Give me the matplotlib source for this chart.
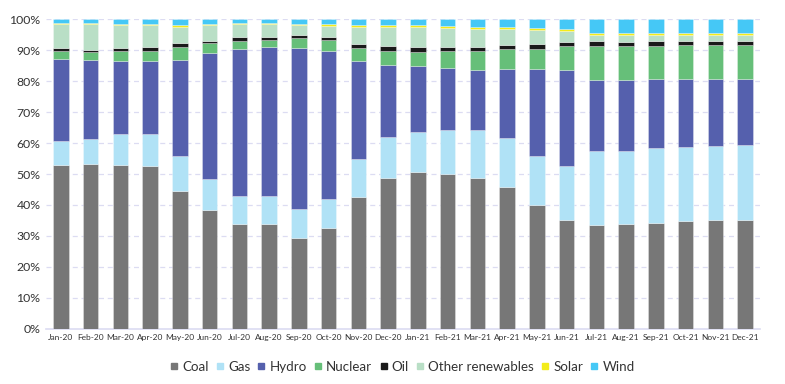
import numpy as np
import matplotlib.pyplot as plt
from matplotlib.lines import Line2D

# Monthly generation share by source (%)
months = ["Jan-20", "Feb-20", "Mar-20", "Apr-20", "May-20", "Jun-20", "Jul-20", "Aug-20",
          "Sep-20", "Oct-20", "Nov-20", "Dec-20", "Jan-21", "Feb-21", "Mar-21", "Apr-21",
          "May-21", "Jun-21", "Jul-21", "Aug-21", "Sep-21", "Oct-21", "Nov-21", "Dec-21"]

coal = [53.0, 53.3, 53.0, 52.7, 44.6, 38.3, 33.8, 33.8, 29.3, 32.5, 42.6, 48.7,
        50.7, 50.0, 48.7, 45.8, 40.0, 35.0, 33.4, 34.0, 34.3, 34.7, 35.0, 35.0]
gas = [7.8, 8.1, 10.0, 10.3, 11.3, 10.1, 9.2, 9.2, 9.4, 9.4, 12.4, 13.4,
       13.0, 14.1, 15.4, 15.7, 15.7, 17.5, 24.2, 23.6, 24.0, 23.9, 23.9, 24.3]
hydro = [26.5, 25.3, 23.4, 23.4, 31.1, 40.6, 47.3, 48.0, 51.9, 47.8, 31.4, 23.0,
         21.1, 20.1, 19.4, 22.3, 28.1, 31.0, 22.7, 22.7, 22.3, 22.0, 21.7, 21.3]
nuclear = [2.4, 2.7, 3.3, 3.3, 4.0, 3.3, 2.6, 2.2, 3.3, 3.5, 4.2, 4.6,
           4.6, 5.5, 6.2, 6.5, 6.5, 7.8, 11.0, 11.0, 10.7, 11.0, 11.0, 11.0]
oil = [0.9, 0.8, 0.9, 1.3, 1.2, 0.7, 1.3, 1.0, 1.0, 1.0, 1.3, 1.6,
       1.6, 1.3, 1.3, 1.3, 1.6, 1.3, 1.6, 1.3, 1.6, 1.3, 1.3, 1.3]
other_renew = [7.9, 8.2, 7.6, 7.2, 5.4, 5.2, 4.2, 4.2, 3.2, 3.6, 5.7, 6.3,
               6.4, 6.1, 5.9, 5.3, 4.7, 3.5, 2.0, 2.3, 2.0, 2.0, 2.0, 2.0]
solar = [0.4, 0.3, 0.2, 0.2, 0.6, 0.2, 0.3, 0.3, 0.3, 0.6, 0.6, 0.6,
         0.8, 0.7, 0.7, 0.7, 0.5, 0.7, 0.6, 0.6, 0.6, 0.6, 0.6, 0.6]
wind = [1.1, 1.3, 1.6, 1.6, 1.8, 1.6, 1.3, 1.3, 1.6, 1.6, 1.8, 1.8,
        1.8, 2.2, 2.4, 2.4, 2.9, 3.2, 4.5, 4.5, 4.5, 4.5, 4.5, 4.5]

series = [("Coal", coal, "#777777"),
          ("Gas", gas, "#b0e2f6"),
          ("Hydro", hydro, "#5560ad"),
          ("Nuclear", nuclear, "#66bf79"),
          ("Oil", oil, "#1a1a1a"),
          ("Other renewables", other_renew, "#b9dfc6"),
          ("Solar", solar, "#f3ec1a"),
          ("Wind", wind, "#45c8f6")]

plt.rcParams["font.family"] = ["Lato", "DejaVu Sans"]

fig = plt.figure(figsize=(7.85, 3.84), dpi=100)
ax = fig.add_axes([0.0586, 0.1438, 0.9094, 0.806])

x = np.arange(len(months))
# normalise each month to 100%
totals = np.sum([np.array(s[1]) for s in series], axis=0)
bottom = np.zeros(len(months))
for name, vals, color in series:
    v = np.array(vals) / totals * 100
    ax.bar(x, v, width=0.52, bottom=bottom, color=color,
           edgecolor=(1, 1, 1, 0.35), linewidth=0.6, label=name, zorder=3)
    bottom += v

ax.set_xlim(-0.5, 23.5)
ax.set_ylim(0, 100)
ax.set_yticks(np.arange(0, 101, 10))
ax.set_yticklabels([f"{t}%" for t in range(0, 101, 10)], fontsize=8.8, color="#333333")
ax.set_xticks(x)
ax.set_xticklabels(months, fontsize=6.0, color="#333333")
ax.tick_params(length=0, pad=4)

ax.grid(axis="y", color="#dcdcf2", linestyle=(0, (4, 3)), linewidth=0.9, zorder=0)
for s in ["top", "right", "left"]:
    ax.spines[s].set_visible(False)
ax.spines["bottom"].set_color("#dcdcf2")
ax.spines["bottom"].set_linewidth(1.2)

handles = [Line2D([], [], marker="s", linestyle="none", markersize=4,
                  markerfacecolor=c, markeredgecolor=c) for _, _, c in series]
fig.legend(handles, [s[0] for s in series], loc="center", bbox_to_anchor=(0.513, 0.044),
           ncol=8, frameon=False, fontsize=9.6, handlelength=0.5, handletextpad=0.35,
           columnspacing=0.6, labelcolor="#333333")

fig.savefig("out.png", dpi=100)
